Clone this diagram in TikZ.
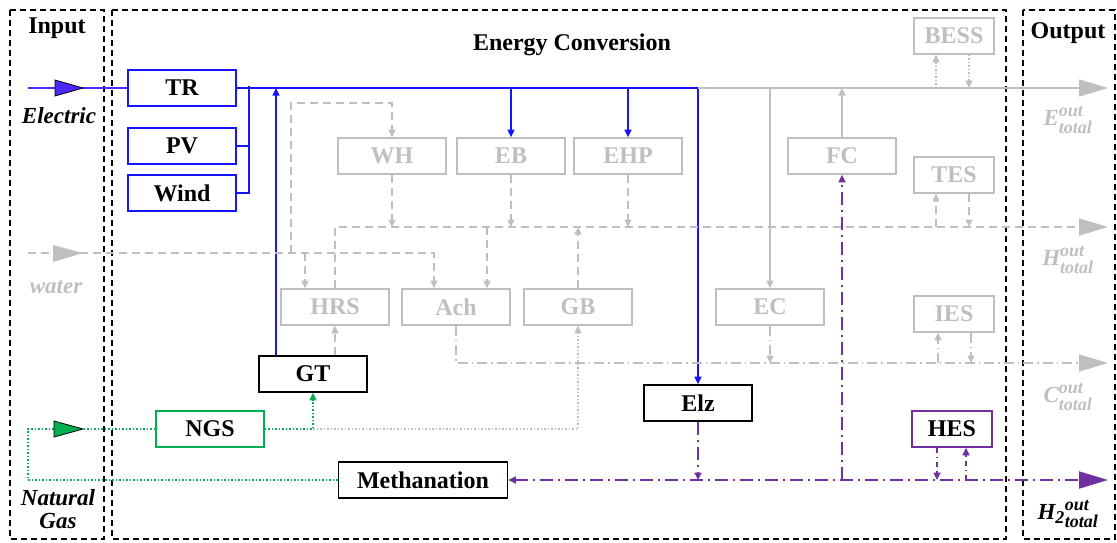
\documentclass[tikz,border=0pt]{standalone}
\usepackage{fontspec}
\usepackage{amsmath}
\setmainfont{Liberation Serif}
\usetikzlibrary{arrows.meta}
\definecolor{eblue}{RGB}{20,20,255}
\definecolor{einblue}{RGB}{80,40,255}
\definecolor{lgray}{RGB}{191,191,191}
\definecolor{ggreen}{RGB}{0,176,80}
\definecolor{hpurple}{RGB}{112,48,160}
\newcommand{\bfnt}{\fontsize{24}{28}\selectfont\bfseries}
\newcommand{\lfnt}{\fontsize{23}{26}\selectfont\bfseries\itshape}
\newcommand{\scr}[1]{\text{\fontsize{18}{18}\selectfont #1}}
\tikzset{
  frame/.style={draw=black, line width=1.6pt, dash pattern=on 6pt off 4pt},
  box/.style={draw, line width=1.6pt, minimum width=108pt, minimum height=36pt, inner sep=0pt, font=\bfnt},
  sbox/.style={box, minimum width=80pt},
  gbox/.style={draw=lgray, text=lgray},
  ttl/.style={font=\bfnt, inner sep=0pt, anchor=base},
  lab/.style={font=\lfnt, inner sep=0pt},
  arr/.style={-{Triangle[length=7.5pt,width=7pt]}},
  bigarr/.style={-{Triangle[length=29pt,width=17pt]}},
  eline/.style={draw=eblue, line width=1.6pt},
  gline/.style={draw=lgray, line width=1.3pt},
  gdot/.style={draw=lgray, line width=1.3pt, dash pattern=on 1.5pt off 2pt},
  hline/.style={draw=lgray, line width=1.6pt, dash pattern=on 8pt off 5pt},
  cline/.style={draw=lgray, line width=1.5pt, dash pattern=on 10pt off 4pt on 1.5pt off 4pt},
  gasline/.style={draw=ggreen, line width=1.5pt, dash pattern=on 1.5pt off 2pt},
  gasgray/.style={draw=lgray, line width=1.5pt, dash pattern=on 1.5pt off 2pt},
  hyline/.style={draw=hpurple, line width=1.8pt, dash pattern=on 13pt off 5pt on 2pt off 5pt},
  hysmall/.style={draw=hpurple, line width=1.6pt, dash pattern=on 5pt off 4pt on 1.5pt off 4pt}
}
\begin{document}
\begin{tikzpicture}[x=1pt,y=-1pt]
\useasboundingbox (0,0) rectangle (1117,542);
% frames
\draw[frame] (10,10) rectangle (104,539);
\draw[frame] (112,10) rectangle (1006,539);
\draw[frame] (1023,10) rectangle (1115,539);
\node[ttl] (tin) at (57,33) {Input};
\node[ttl] (tec) at (572,50) {Energy Conversion};
\node[ttl] (tout) at (1068,38) {Output};
% nodes
\node[box, draw=eblue] (TR) at (182,88) {TR};
\node[box, draw=eblue] (PV) at (182,146) {PV};
\node[box, draw=eblue] (Wind) at (182,193) {Wind};
\node[box, gbox] (WH) at (392,156) {WH};
\node[box, gbox] (EB) at (511,156) {EB};
\node[box, gbox] (EHP) at (628,156) {EHP};
\node[box, gbox] (FC) at (842,156) {FC};
\node[sbox, gbox] (BESS) at (954,36) {BESS};
\node[sbox, gbox] (TES) at (954,175) {TES};
\node[box, gbox] (HRS) at (335,307) {HRS};
\node[box, gbox] (Ach) at (456,307) {Ach};
\node[box, gbox] (GB) at (578,307) {GB};
\node[box, gbox] (EC) at (770,307) {EC};
\node[sbox, gbox] (IES) at (954,314) {IES};
\node[box] (GT) at (313,374) {GT};
\node[box, draw=ggreen] (NGS) at (210,429) {NGS};
\node[box] (Elz) at (698,403) {Elz};
\node[box, minimum width=169pt] (Meth) at (423,480) {Methanation};
\node[sbox, draw=hpurple] (HES) at (952,429) {HES};
% labels
\node[lab] (lel) at (59,116) {Electric};
\node[lab, text=lgray] (lwa) at (56,287) {water};
\node[lab, align=center] (lng) at (58,509) {Natural\\[-3pt]Gas};
\node[lab, text=lgray] (leo) at (1068,120) {E$^{\scr{out}}_{\scr{total}}$};
\node[lab, text=lgray] (lho) at (1068,260) {H$^{\scr{out}}_{\scr{total}}$};
\node[lab, text=lgray] (lco) at (1068,397) {C$^{\scr{out}}_{\scr{total}}$};
\node[lab] (lh2) at (1068,514) {H$_{\scr{2}}{}^{\scr{out}}_{\scr{total}}$};
% coordinates
\coordinate (ein) at (28,88);
\coordinate (ej) at (698,88);
\coordinate (eout) at (1108,88);
\coordinate (pvb) at (249,86);
\coordinate (gtb) at (276,88);
\coordinate (win) at (28,253);
\coordinate (wtop) at (291,103);
\coordinate (hout) at (1108,227);
\coordinate (cout) at (1108,363);
\coordinate (gin) at (28,429);
\coordinate (gbot) at (28,480);
\coordinate (h2out) at (1108,480);
% electricity
\draw[eline, draw=einblue] (ein) -- (TR.west);
\filldraw[fill=einblue, draw=black, line width=0.8pt] (55,80) -- (83,88) -- (55,96) -- cycle;
\draw[eline] (TR.east) -- (ej);
\draw[eline] (Wind.east) -| (pvb);
\draw[eline] (PV.east) -- (PV.east -| pvb);
\draw[eline, arr] (gtb |- GT.north) -- (gtb);
\draw[eline, arr] (EB.north |- ej) -- (EB.north);
\draw[eline, arr] (EHP.north |- ej) -- (EHP.north);
\draw[eline, arr] (ej) -- (Elz.north);
\draw[gline, bigarr] (ej) -- (eout);
\draw[gline, arr] (EC.north |- ej) -- (EC.north);
\draw[gline, arr] (FC.north) -- (FC.north |- ej);
\draw[gdot, arr] ([xshift=-18pt]BESS.south |- ej) -- ([xshift=-18pt]BESS.south);
\draw[gdot, arr] ([xshift=15pt]BESS.south) -- ([xshift=15pt]BESS.south |- ej);
% heat / water
\draw[hline, arr] (win) -| ([xshift=-22pt]Ach.north);
\fill[lgray] (53,245) -- (83,253) -- (53,262) -- cycle;
\draw[hline, arr] (win -| wtop) -- (wtop) -| (WH.north);
\draw[hline, arr] ([xshift=-30pt]HRS.north |- win) -- ([xshift=-30pt]HRS.north);
\draw[hline, bigarr] (HRS.north) -- (HRS.north |- hout) -- (hout);
\draw[hline, arr] (WH.south) -- (WH.south |- hout);
\draw[hline, arr] (EB.south) -- (EB.south |- hout);
\draw[hline, arr] (EHP.south) -- (EHP.south |- hout);
\draw[hline, arr] (GB.north) -- (GB.north |- hout);
\draw[hline, arr] ([xshift=31pt]Ach.north |- hout) -- ([xshift=31pt]Ach.north);
\draw[hline, arr] (HRS.south |- GT.north) -- (HRS.south);
\draw[hline, arr] ([xshift=-18pt]TES.south |- hout) -- ([xshift=-18pt]TES.south);
\draw[hline, arr] ([xshift=15pt]TES.south) -- ([xshift=15pt]TES.south |- hout);
% cooling
\draw[cline, bigarr] (Ach.south) |- (cout);
\draw[cline, arr] (EC.south) -- (EC.south |- cout);
\draw[cline, arr] ([xshift=-16pt]IES.south |- cout) -- ([xshift=-16pt]IES.south);
\draw[cline, arr] ([xshift=17pt]IES.south) -- ([xshift=17pt]IES.south |- cout);
% gas
\draw[gasline] (Meth.west) -- (gbot) -- (gin) -- (NGS.west);
\filldraw[fill=ggreen, draw=black, line width=0.8pt] (54,421) -- (83,429) -- (54,437) -- cycle;
\draw[gasline, arr] (NGS.east) -| (GT.south);
\draw[gasgray, arr] (GT.south |- NGS.east) -| (GB.south);
% hydrogen
\draw[hyline, {Triangle[length=7.5pt,width=7pt]}-{Triangle[length=29pt,width=17pt]}] (Meth.east) -- (h2out);
\draw[hyline, arr] (Elz.south) -- (Elz.south |- h2out);
\draw[hyline, arr] (FC.south |- h2out) -- (FC.south);
\draw[hysmall, arr] ([xshift=-15pt]HES.south) -- ([xshift=-15pt]HES.south |- h2out);
\draw[hysmall, arr] ([xshift=14pt]HES.south |- h2out) -- ([xshift=14pt]HES.south);
\end{tikzpicture}
\end{document}
